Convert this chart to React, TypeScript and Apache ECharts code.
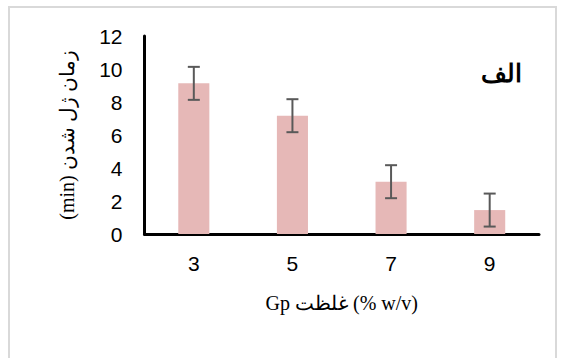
import React, { useEffect, useRef } from "react";
import * as echarts from "echarts";

const categories = ["3", "5", "7", "9"];
const gelTime = [9.13, 7.17, 3.17, 1.45];
const errors = [1.0, 1.0, 1.0, 1.0];
const yTicks = { min: 0, max: 12, interval: 2 };

export default function App() {
  const ref = useRef<HTMLDivElement>(null);
  useEffect(() => {
    document.body.style.margin = "0";
    const chart = echarts.init(ref.current!, null, { renderer: "svg" });
    const errData = categories.map((c, i) => [i, gelTime[i], errors[i]]);
    chart.setOption({
      animation: false,
      backgroundColor: "#ffffff",
      grid: { left: 144.5, right: 24, top: 36, bottom: 124, containLabel: false },
      xAxis: {
        type: "category",
        data: categories,
        boundaryGap: true,
        axisLine: { show: true, lineStyle: { color: "#000000", width: 3 } },
        axisTick: { show: false },
        axisLabel: {
          color: "#000000",
          fontSize: 21,
          fontFamily: "Liberation Sans, Arial, sans-serif",
          margin: 19,
        },
        name: "Gp غلظت (% w/v)",
        nameLocation: "middle",
        nameGap: 59,
        nameTextStyle: {
          color: "#000000",
          fontSize: 20,
          fontFamily: "Liberation Serif, Times New Roman, serif",
        },
      },
      yAxis: {
        type: "value",
        min: yTicks.min,
        max: yTicks.max,
        interval: yTicks.interval,
        axisLine: { show: true, lineStyle: { color: "#000000", width: 3 } },
        axisTick: { show: false },
        splitLine: { show: false },
        axisLabel: {
          color: "#000000",
          fontSize: 21,
          fontFamily: "Liberation Sans, Arial, sans-serif",
          margin: 22,
        },
        name: "(min) زمان ژل شدن",
        nameLocation: "middle",
        nameRotate: 90,
        nameGap: 68,
        nameTextStyle: {
          color: "#000000",
          fontSize: 20,
          fontFamily: "Liberation Serif, Times New Roman, serif",
        },
      },
      series: [
        {
          type: "bar",
          data: gelTime,
          barWidth: "31.5%",
          itemStyle: { color: "#e6b8b7" },
          z: 2,
        },
        {
          type: "custom",
          data: errData,
          z: 3,
          renderItem: (params: any, api: any) => {
            const idx = api.value(0);
            const v = api.value(1);
            const e = api.value(2);
            const top = api.coord([idx, v + e]);
            const bot = api.coord([idx, v - e]);
            const x = top[0];
            const hw = 6;
            const style = { stroke: "#595959", lineWidth: 2 };
            return {
              type: "group",
              children: [
                { type: "line", shape: { x1: x, y1: top[1], x2: x, y2: bot[1] }, style },
                { type: "line", shape: { x1: x - hw, y1: top[1], x2: x + hw, y2: top[1] }, style },
                { type: "line", shape: { x1: x - hw, y1: bot[1], x2: x + hw, y2: bot[1] }, style },
              ],
            };
          },
        },
      ],
      graphic: [
        {
          type: "rect",
          shape: { x: 9, y: 7, width: 547, height: 360 },
          style: { fill: "none", stroke: "#d9d9d9", lineWidth: 2 },
          silent: true,
        },
        {
          type: "text",
          x: 501,
          y: 73,
          style: {
            text: "الف",
            fill: "#000000",
            font: "bold 25px 'Liberation Serif', 'Times New Roman', serif",
            align: "center",
            verticalAlign: "middle",
          },
        },
      ],
    });
    return () => chart.dispose();
  }, []);
  return <div ref={ref} style={{ width: 563, height: 358 }} />;
}
